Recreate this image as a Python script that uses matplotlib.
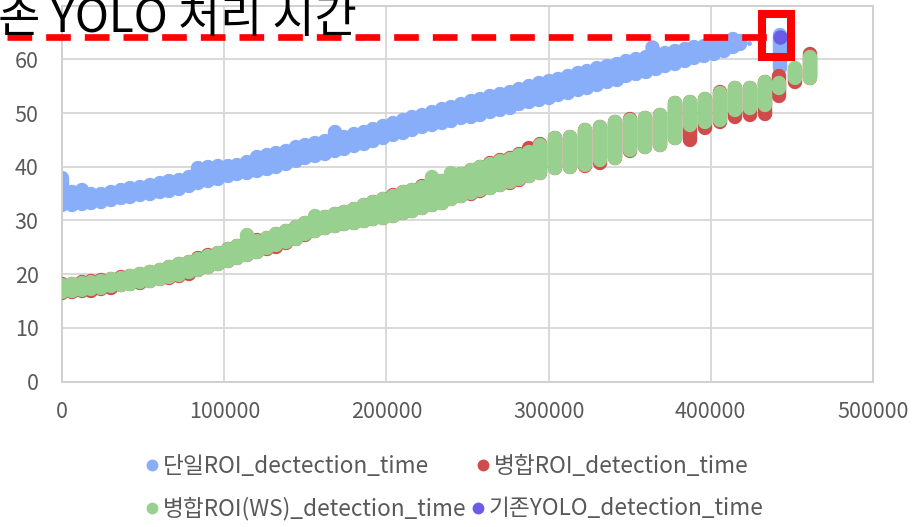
import matplotlib
matplotlib.use("Agg")
import matplotlib.pyplot as plt
from matplotlib.lines import Line2D
from matplotlib.patches import Rectangle

plt.rcParams['font.family'] = ['Noto Sans CJK KR', 'DejaVu Sans']

# 단일ROI_dectection_time: frame position, lowest and highest time in each sample column
single_x = [0, 6000, 12000, 18000, 24000, 30000, 36000, 42000, 48000, 54000,
            60000, 66000, 72000, 78000, 84000, 90000, 96000, 102000, 108000, 114000,
            120000, 126000, 132000, 138000, 144000, 150000, 156000, 162000, 168000, 174000,
            180000, 186000, 192000, 198000, 204000, 210000, 216000, 222000, 228000, 234000,
            240000, 246000, 252000, 258000, 264000, 270000, 276000, 282000, 288000, 294000,
            300000, 306000, 312000, 318000, 324000, 330000, 336000, 342000, 348000, 354000,
            360000, 366000, 372000, 378000, 384000, 390000, 396000, 402000, 408000, 414000,
            418000, 442700]
single_lo = [32.8, 32.9, 33.1, 33.3, 33.5, 33.8, 34.1, 34.4, 34.7, 35.0,
             35.3, 35.5, 35.9, 36.4, 36.9, 37.3, 37.8, 38.2, 38.6, 38.9,
             39.2, 39.6, 40.0, 40.5, 41.0, 41.6, 42.0, 42.4, 42.9, 43.3,
             43.8, 44.3, 44.8, 45.4, 45.9, 46.3, 46.8, 47.3, 47.7, 48.2,
             48.6, 49.0, 49.3, 49.7, 50.2, 50.6, 51.0, 51.6, 52.0, 52.4,
             52.8, 53.3, 53.8, 54.3, 54.7, 55.2, 55.7, 56.2, 56.8, 57.2,
             57.7, 58.2, 58.7, 59.2, 59.7, 60.2, 60.6, 61.0, 61.6, 62.2,
             62.8, 58.4]
single_hi = [37.9, 35.3, 35.6, 35.0, 34.9, 35.3, 35.6, 36.0, 36.3, 36.6,
             37.0, 37.3, 37.6, 38.1, 39.8, 40.0, 40.1, 40.2, 40.3, 40.9,
             41.8, 42.2, 42.6, 43.0, 43.6, 44.0, 44.4, 44.8, 46.5, 45.5,
             46.0, 46.5, 47.0, 47.6, 48.2, 48.7, 49.2, 49.6, 50.2, 50.7,
             51.2, 51.7, 52.2, 52.6, 53.1, 53.5, 53.9, 54.5, 55.0, 55.6,
             56.0, 56.4, 56.9, 57.4, 57.8, 58.3, 58.8, 59.2, 59.7, 60.1,
             60.5, 60.9, 61.2, 61.5, 61.9, 62.2, 62.5, 62.8, 63.0, 63.8,
             63.4, 64.6]
single_extra_x = [363600]
single_extra_y = [62.3]
single_tail_x = [419200, 423900]
single_tail_y = [62.7, 63.0]

# 병합ROI(WS)_detection_time
ws_x = [0, 6000, 12000, 18000, 24000, 30000, 36000, 42000, 48000, 54000,
        60000, 66000, 72000, 78000, 84000, 90000, 96000, 102000, 108000, 114000,
        120000, 126000, 132000, 138000, 144000, 150000, 156000, 162000, 168000, 174000,
        180000, 186000, 192000, 198000, 204000, 210000, 216000, 222000, 228000, 234000,
        240000, 246000, 252000, 258000, 264000, 270000, 276000, 282000, 288000, 294700,
        303900, 313200, 322400, 331700, 340900, 350200, 359400, 368700, 378000, 387200,
        396500, 405700, 415000, 424200, 433500, 442300, 452000, 461300]
ws_lo = [16.6, 16.8, 17.0, 17.2, 17.5, 17.7, 17.9, 18.2, 18.5, 18.8,
         19.1, 19.5, 19.9, 20.3, 20.8, 21.3, 21.9, 22.5, 23.0, 23.6,
         24.2, 24.8, 25.4, 26.0, 26.6, 27.4, 28.0, 28.5, 29.0, 29.3,
         29.6, 29.9, 30.2, 30.5, 30.8, 31.3, 31.8, 32.3, 32.8, 33.3,
         33.9, 34.5, 35.1, 35.6, 36.1, 36.6, 37.1, 37.7, 38.3, 38.8,
         39.7, 40.0, 40.3, 41.2, 41.6, 43.1, 43.7, 44.0, 45.3, 47.8,
         48.4, 48.7, 50.6, 50.9, 51.5, 54.6, 56.5, 56.5]
ws_hi = [18.0, 18.1, 18.3, 18.6, 18.8, 19.1, 19.3, 19.7, 20.0, 20.4,
         20.8, 21.3, 21.8, 22.3, 22.9, 23.4, 24.0, 24.6, 25.2, 27.3,
         26.2, 26.8, 27.4, 28.0, 28.7, 29.6, 30.8, 30.6, 31.2, 31.6,
         32.2, 32.8, 33.4, 34.0, 34.6, 35.2, 35.7, 36.3, 38.1, 37.3,
         38.8, 38.7, 39.3, 39.9, 40.5, 41.0, 41.5, 42.2, 42.8, 44.0,
         45.3, 45.6, 46.8, 47.4, 48.4, 48.7, 49.0, 49.6, 51.8, 52.1,
         52.7, 53.7, 54.6, 54.6, 55.8, 55.5, 58.3, 60.5]

# 병합ROI_detection_time
merged_x = ws_x
merged_lo = [16.5, 16.7, 16.8, 16.9, 17.3, 17.5, 17.9, 18.2, 18.4, 18.7,
             19.0, 19.3, 19.6, 20.1, 20.8, 21.3, 21.9, 22.5, 23.0, 23.6,
             24.2, 24.7, 25.1, 25.8, 26.5, 27.3, 28.0, 28.5, 29.0, 29.3,
             29.6, 29.9, 30.2, 30.5, 30.8, 31.3, 31.8, 32.3, 32.8, 33.3,
             33.9, 34.5, 35.0, 35.5, 36.0, 36.5, 37.0, 37.6, 38.2, 38.8,
             39.7, 40.0, 40.1, 40.6, 41.6, 43.0, 43.7, 44.0, 45.3, 45.0,
             47.2, 48.3, 49.3, 49.6, 49.9, 53.1, 55.8, 56.5]
merged_hi = [18.1, 18.2, 18.5, 18.7, 18.9, 19.1, 19.4, 19.7, 20.1, 20.4,
             20.8, 21.3, 21.8, 22.3, 23.0, 23.5, 24.0, 24.6, 25.2, 25.8,
             26.3, 26.8, 27.4, 28.0, 28.7, 29.6, 30.2, 30.6, 31.1, 31.6,
             32.2, 32.9, 33.5, 34.0, 34.8, 35.2, 35.7, 36.4, 37.0, 37.4,
             38.0, 38.7, 39.3, 40.0, 40.6, 41.2, 41.6, 42.3, 43.4, 44.2,
             45.3, 45.6, 46.8, 47.4, 48.4, 48.9, 49.0, 49.6, 51.8, 52.1,
             52.7, 54.0, 54.6, 54.6, 55.8, 56.8, 58.0, 60.9]

# 기존YOLO_detection_time
yolo_x = [442700]
yolo_y = [64.1]

x_ticks = [0, 100000, 200000, 300000, 400000, 500000]
x_labels = ['0', '100000', '200000', '300000', '400000', '500000']
y_ticks = [0, 10, 20, 30, 40, 50, 60, 70]
y_labels = ['0', '10', '20', '30', '40', '50', '60', '']

legend_labels = ['단일ROI_dectection_time', '병합ROI_detection_time',
                 '병합ROI(WS)_detection_time', '기존YOLO_detection_time']

BLUE = '#88ADF9'
RED = '#D04B4B'
GREEN = '#98D18F'
PURPLE = '#6B5CE7'
GRID = '#D9D9D9'
TEXT = '#595959'

W, H = 920, 527
fig = plt.figure(figsize=(W / 100, H / 100), dpi=100)
ax = fig.add_axes([62.3 / W, 1 - 381.5 / H, (872.7 - 62.3) / W, (381.5 - 5.6) / H])

dot = 10.4  # marker diameter in points
ax.vlines(single_x, single_lo, single_hi, colors=BLUE, linewidth=dot,
          capstyle='round', zorder=2)
ax.scatter(single_extra_x, single_extra_y, s=dot ** 2, color=BLUE, linewidths=0, zorder=2)
ax.scatter(single_tail_x, single_tail_y, s=3.5 ** 2, color=BLUE, linewidths=0, zorder=2)
ax.vlines(merged_x, merged_lo, merged_hi, colors=RED, linewidth=dot,
          capstyle='round', zorder=3)
ax.vlines(ws_x, ws_lo, ws_hi, colors=GREEN, linewidth=dot,
          capstyle='round', zorder=4)
ax.scatter(yolo_x, yolo_y, s=dot ** 2, color=PURPLE, linewidths=0, zorder=5)

# guide line at the YOLO time and a box round the YOLO point
ax.plot([-34000, yolo_x[0] - 3000], [yolo_y[0], yolo_y[0]], color='#FF0000', lw=4.8,
        dashes=(3.7, 2.1), dash_capstyle='butt', clip_on=False, zorder=6)
ax.add_patch(Rectangle((yolo_x[0] - 10900, yolo_y[0] - 3.7), 17700, 8.0, fill=False,
                       edgecolor='#FF0000', linewidth=5.8, joinstyle='miter',
                       clip_on=False, zorder=7))

ax.set_xlim(0, 500000)
ax.set_ylim(0, 70)
ax.set_xticks(x_ticks)
ax.set_xticklabels(x_labels)
ax.set_yticks(y_ticks)
ax.set_yticklabels(y_labels)
ax.tick_params(length=0, labelsize=15.5, labelcolor=TEXT)
ax.tick_params(axis='y', pad=17)
ax.tick_params(axis='x', pad=14)
ax.grid(True, color=GRID, linewidth=1.4)
ax.set_axisbelow(True)
for sp in ax.spines.values():
    sp.set_color('#D0D0D0')
    sp.set_linewidth(1.4)

fig.text(-44 / W, 1 - 32 / H, '기존 YOLO 처리 시간', ha='left', va='baseline',
         fontsize=33, color='black')

legend_pos = [(152, 465), (483, 465), (152, 508), (478, 508)]
legend_cols = [BLUE, RED, GREEN, PURPLE]
for (px, py), c, lab in zip(legend_pos, legend_cols, legend_labels):
    fy = 1 - py / H
    fig.add_artist(Line2D([px / W], [fy], marker='o', markersize=7.5, color=c,
                          linestyle='none', transform=fig.transFigure))
    fig.text((px + 11) / W, fy - 1 / H, lab, ha='left', va='center', fontsize=16.3,
             color=TEXT)

fig.savefig('out.png', dpi=100)
